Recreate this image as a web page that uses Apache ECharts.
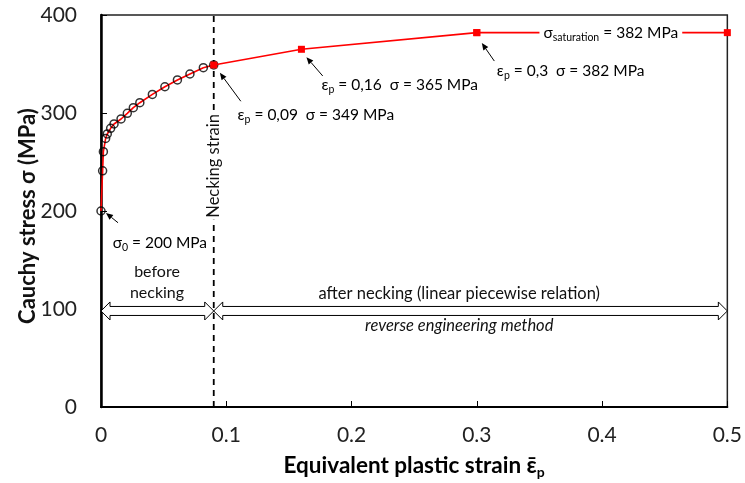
<!DOCTYPE html>
<html>
<head>
<meta charset="utf-8">
<script src="https://cdn.jsdelivr.net/npm/echarts@6/dist/echarts.min.js"></script>
<style>
html,body{margin:0;padding:0;background:#fff;}
#c{width:745px;height:483px;}
</style>
</head>
<body>
<div id="c"></div>
<script>
// ---- data ----
const preStrain = [0, 0.0013, 0.0019, 0.0037, 0.005, 0.0077, 0.0104, 0.016, 0.021, 0.0258, 0.031, 0.041, 0.051, 0.061, 0.071, 0.0817, 0.09];
const preStress = [200, 241, 260.5, 274, 278.6, 284.4, 288.8, 293.9, 299.7, 305.4, 310.5, 319, 326.8, 333.7, 339.8, 346.2, 349];
const postStrain = [0.09, 0.16, 0.3];
const postStress = [349, 365, 382];
const satStrain = [0.3, 0.5];
const satStress = [382, 382];
const neckStrain = 0.09;
const xTicks = ['0', '0.1', '0.2', '0.3', '0.4', '0.5'];
const yTicks = ['0', '100', '200', '300', '400'];

const FONT = 'Lato, "Liberation Sans", sans-serif';
const chart = echarts.init(document.getElementById('c'), null, {renderer: 'canvas'});

const zip = (a, b) => a.map((v, i) => [v, b[i]]);

const option = {
  animation: false,
  backgroundColor: '#fff',
  grid: {left: 101, right: 17, top: 15, bottom: 76, show: true, borderColor: '#222', borderWidth: 1.5},
  xAxis: {
    type: 'value', min: 0, max: 0.5, interval: 0.1,
    axisLine: {show: true, onZero: false, lineStyle: {color: '#000', width: 2}},
    axisTick: {show: true, inside: true, length: 6, lineStyle: {color: '#000', width: 1}},
    splitLine: {show: false},
    axisLabel: {fontSize: 21, color: '#222', margin: 18, fontFamily: FONT,
      formatter: (v) => xTicks[Math.round(v * 10)]}
  },
  yAxis: {
    type: 'value', min: 0, max: 400, interval: 100,
    axisLine: {show: true, onZero: false, lineStyle: {color: '#000', width: 2.5}},
    axisTick: {show: true, inside: true, length: 6, lineStyle: {color: '#000', width: 1}},
    splitLine: {show: false},
    axisLabel: {fontSize: 21, color: '#222', margin: 24, fontFamily: FONT,
      formatter: (v) => yTicks[Math.round(v / 100)]}
  },
  series: [
    { // necking dashed line
      type: 'line', data: [[neckStrain, 0], [neckStrain, 400]], symbol: 'none', z: 1,
      lineStyle: {color: '#000', width: 1.8, type: [6, 5]}, silent: true
    },
    { // red fitted curve before necking
      type: 'line', data: zip(preStrain, preStress), symbol: 'none', z: 2,
      lineStyle: {color: '#ff0000', width: 1.6}
    },
    { // experimental circles
      type: 'scatter', data: zip(preStrain, preStress), symbol: 'circle', symbolSize: 8, z: 3,
      itemStyle: {color: 'rgba(0,0,0,0)', borderColor: '#000', borderWidth: 1.5}
    },
    { // piecewise after necking
      type: 'line', data: zip(postStrain, postStress), symbol: 'rect', symbolSize: 7, z: 6,
      lineStyle: {color: '#ff0000', width: 1.6}, itemStyle: {color: '#ff0000'}
    },
    { // saturation
      type: 'line', data: zip(satStrain, satStress), symbol: 'rect', symbolSize: 7, z: 6,
      lineStyle: {color: '#ff0000', width: 1.6}, itemStyle: {color: '#ff0000'}
    }
  ]
};
chart.setOption(option);

// ---- annotations (positions in data units) ----
const px = (x, y) => chart.convertToPixel({gridIndex: 0}, [x, y]);
const subRich = {
  m: {fontSize: 15.5, fontFamily: FONT, color: '#111', lineHeight: 20, verticalAlign: 'middle'},
  s: {fontSize: 10.5, fontFamily: FONT, color: '#111', lineHeight: 12, verticalAlign: 'bottom'}
};
const textDefs = [
  {t: '{m|σ}{s|0}{m| = 200 MPa}', at: [0.047, 167], align: 'center'},
  {t: '{m|ε}{s|p}{m| = 0,09  σ = 349 MPa}', at: [0.109, 298], align: 'left'},
  {t: '{m|ε}{s|p}{m| = 0,16  σ = 365 MPa}', at: [0.176, 328.6], align: 'left'},
  {t: '{m|ε}{s|p}{m| = 0,3  σ = 382 MPa}', at: [0.316, 342.9], align: 'left'},
  {t: '{m|σ}{s|saturation}{m| = 382 MPa}', at: [0.407, 382], align: 'center', bg: true}
];
const arrowDefs = [
  [[0.0136, 188], [0.004, 198]],
  [[0.1116, 312], [0.0949, 341]],
  [[0.177, 337.8], [0.164, 357]],
  [[0.314, 353], [0.304, 371.4]]
];
const spanDefs = [[0, 0.09, 98], [0.09, 0.5, 98]];

const g = [];
textDefs.forEach(d => {
  const p = px(d.at[0], d.at[1]);
  g.push({type: 'text', x: p[0], y: p[1], z: 20, style: {
    text: d.t, rich: subRich, align: d.align, verticalAlign: 'middle',
    backgroundColor: d.bg ? '#fff' : null, padding: d.bg ? [0, 4] : 0
  }});
});
arrowDefs.forEach(a => {
  const p0 = px(a[0][0], a[0][1]), p1 = px(a[1][0], a[1][1]);
  const dx = p1[0] - p0[0], dy = p1[1] - p0[1], len = Math.hypot(dx, dy);
  const ux = dx / len, uy = dy / len, L = 7, W = 3;
  const bx = p1[0] - ux * L, by = p1[1] - uy * L;
  g.push({type: 'line', z: 20, shape: {x1: p0[0], y1: p0[1], x2: bx, y2: by}, style: {stroke: '#000', lineWidth: 1}});
  g.push({type: 'polygon', z: 20, shape: {points: [[p1[0], p1[1]], [bx - uy * W, by + ux * W], [bx + uy * W, by - ux * W]]}, style: {fill: '#000'}});
});
spanDefs.forEach(s => {
  const a = px(s[0], s[2]), b = px(s[1], s[2]);
  const x1 = a[0], x2 = b[0], y = a[1], L = 9, H = 9, h = 4.5;
  g.push({type: 'polygon', z: 15, shape: {points: [
    [x1, y], [x1 + L, y - H], [x1 + L, y - h], [x2 - L, y - h], [x2 - L, y - H],
    [x2, y], [x2 - L, y + H], [x2 - L, y + h], [x1 + L, y + h], [x1 + L, y + H]
  ]}, style: {fill: '#fff', stroke: '#000', lineWidth: 1}});
});
// plain text labels
const plain = (txt, at, extra) => {
  const p = px(at[0], at[1]);
  g.push(Object.assign({type: 'text', x: p[0], y: p[1], z: 20, style: Object.assign({
    text: txt, fontSize: 16, fontFamily: FONT, fill: '#111', align: 'center', verticalAlign: 'middle'
  }, extra || {})}));
};
plain('before\nnecking', [0.0447, 127], {lineHeight: 21});
plain('after necking (linear piecewise relation)', [0.286, 115.3], {fontSize: 16.5});
plain('reverse engineering method', [0.286, 82.7], {fontStyle: 'italic', fontSize: 16.5});
// necking strain (vertical)
(() => {
  const p = px(0.09, 246);
  g.push({type: 'text', x: p[0], y: p[1], rotation: Math.PI / 2, z: 20, style: {
    text: 'Necking strain', fontSize: 16.5, fontFamily: FONT, fill: '#111', align: 'center', verticalAlign: 'middle',
    backgroundColor: '#fff', padding: [0, 2]
  }});
})();
// axis titles
(() => {
  const cx = px(0.25, 0)[0];
  g.push({type: 'text', x: cx, y: 466, z: 20, style: {
    text: '{b|Equivalent plastic strain ε\u0304}{sb|p}',
    align: 'center', verticalAlign: 'middle',
    rich: {
      b: {fontSize: 22.5, fontWeight: 'bold', fontFamily: FONT, color: '#111', lineHeight: 26, verticalAlign: 'middle'},
      sb: {fontSize: 14, fontWeight: 'bold', fontFamily: FONT, color: '#111', lineHeight: 16, verticalAlign: 'bottom'}
    }
  }});
  const cy = px(0, 200)[1];
  g.push({type: 'text', x: 28, y: cy + 5, rotation: Math.PI / 2, z: 20, style: {
    text: 'Cauchy stress σ (MPa)', fontSize: 22, fontWeight: 'bold', fontFamily: FONT, fill: '#111',
    align: 'center', verticalAlign: 'middle'
  }});
})();
chart.setOption({graphic: g});
</script>
</body>
</html>
